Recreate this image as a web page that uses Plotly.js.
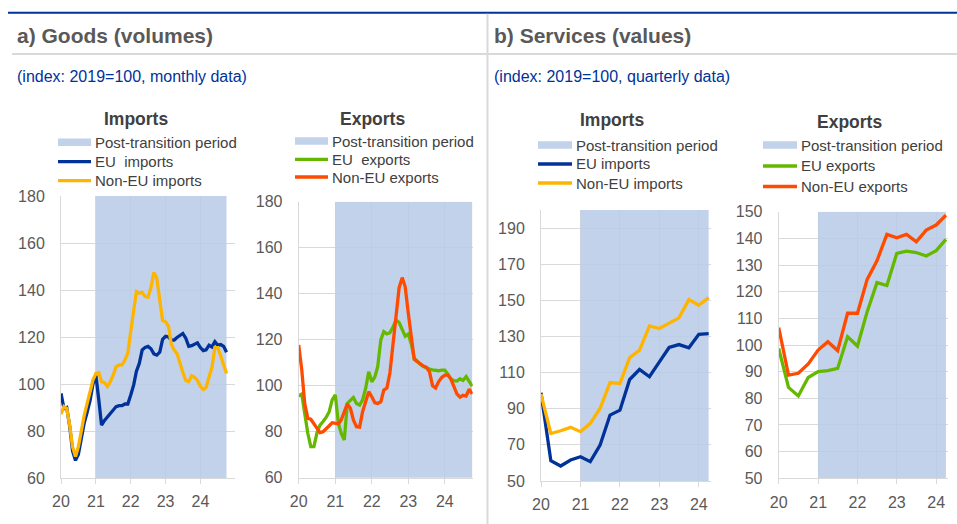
<!DOCTYPE html>
<html><head><meta charset="utf-8">
<script src="https://cdn.plot.ly/plotly-3.0.1.min.js"></script>
<style>html,body{margin:0;padding:0;background:#fff}#chart{width:957px;height:524px}</style>
</head><body><div id="chart"></div>
<script>
// ---------------- DATA ----------------
// Goods (volumes), monthly, Jan 2020 - Oct 2024, index 2019=100
const goodsImportsEU = [96,89.5,90,82,71.5,67.5,70,77.5,83.5,88,93,100,103.5,93,82.5,84.5,86,87.8,89.2,90.4,90.8,90.8,91.5,91.5,95.3,99.6,105.3,108.8,114.5,115.6,116,115,112.8,112.3,113.5,119,120.3,120,118.7,118.7,119.8,120.8,121.5,119.5,116,116.3,116.8,117.5,115.5,114.2,114.5,116.5,115.8,118,116.5,116.8,116,113.5];
const goodsImportsNonEU = [87.2,90.4,89.6,82.5,73.3,69.1,73.3,80.4,86.8,91.8,96.7,101.7,104.5,104.8,101,100.6,98.9,101,103.8,107.4,108.1,108.1,110.2,113.1,122.3,131.5,139.3,138.6,139,137.2,137,141,147.5,145,135,127,126.5,124.5,117,114.5,113,108.5,105,101.5,101,103.5,102.8,101.5,99,97.7,98.5,103,107,115.5,115.5,112,108,104.5];
const goodsExportsEU = [95.5,96.4,88,79.3,73.5,73.5,79.3,82.9,84.4,86.2,88.7,93.8,96,83.6,79.3,76.4,92.3,93.8,94.9,92.3,91.6,93.8,98.9,106.1,101.7,103.9,108.3,119.9,123.5,122.5,123,125.5,128.5,127.5,124.5,121.5,122.5,118,112,110.5,109.3,108.3,107.6,107.2,106.9,106.6,106.5,106.8,106.8,105,103,102.2,102,103,102.3,104,101.5,99.8];
const goodsExportsNonEU = [117.7,106.8,92.3,85.8,85.4,83.6,81.5,79.6,80,81.5,82.6,83.9,83.6,83.4,85.1,88.7,92.1,90.2,85.1,82.2,82,88.7,93.8,97.4,95.2,92.6,92.3,93,98.1,99,105.5,117,129,142.5,147,143,131.5,120,111.5,110.5,109.3,108.5,108,106,100,99,101.8,103.6,104.6,104.6,103,100,96.5,95,95.8,95.5,98.5,96.4];
// Services (values), quarterly, 2020Q1 - 2024Q2, index 2019=100
const servImportsEU = [98.8,61.2,58.3,61.6,63.4,60.7,69.9,86.5,89.2,106.2,111.7,107.7,115.9,123.9,125.5,123.7,131.2,131.6];
const servImportsNonEU = [98.1,76.3,77.8,79.7,77.3,81.9,90.2,104.5,104,118.3,122.4,135.8,134.4,137.1,140.3,150.4,147.3,151.5];
const servExportsEU = [98.7,84.1,80.9,87.8,90,90.4,91.2,103.1,99.6,112.5,123.4,122.3,134.4,135.2,134.7,133.4,135.4,139.6];
const servExportsNonEU = [106.5,88.7,89.4,92.9,98.1,101.2,97.9,111.9,111.9,124.6,131.6,141.5,140.2,141.5,138.7,143.1,145,148.7];

const firstMonth = '2020-01';
const firstQuarter = '2020-01';
const postTransitionStart = '2021-01-01';
const yearTicks = ['2020-01-01','2021-01-01','2022-01-01','2023-01-01','2024-01-01'];
const yearTickLabels = ['20','21','22','23','24'];

const mainTitles = ['a) Goods (volumes)', 'b) Services (values)'];
const subTitles = ['(index: 2019=100, monthly data)', '(index: 2019=100, quarterly data)'];
const panelTitles = ['Imports', 'Exports', 'Imports', 'Exports'];
const shadeLabel = 'Post-transition period';
const legendNames = [
  ['EU  imports', 'Non-EU imports'],
  ['EU  exports', 'Non-EU exports'],
  ['EU imports', 'Non-EU imports'],
  ['EU exports', 'Non-EU exports']
];

// ---------------- HELPERS ----------------
function monthSeries(start, n) {
  const [y0, m0] = start.split('-').map(Number);
  const out = [];
  for (let i = 0; i < n; i++) {
    const t = (m0 - 1) + i;
    const y = y0 + Math.floor(t / 12), m = (t % 12) + 1;
    out.push(y + '-' + String(m).padStart(2, '0') + '-01');
  }
  return out;
}
function quarterSeries(start, n) {
  const [y0, m0] = start.split('-').map(Number);
  const out = [];
  for (let i = 0; i < n; i++) {
    const t = (m0 - 1) + 3 * i;
    const y = y0 + Math.floor(t / 12), m = (t % 12) + 1;
    out.push(y + '-' + String(m).padStart(2, '0') + '-01');
  }
  return out;
}
const months = monthSeries(firstMonth, goodsImportsEU.length);
const quarters = quarterSeries(firstQuarter, servImportsEU.length);

const W = 957, H = 524;
const px = x => x / W;
const py = y => 1 - y / H;

const COL = {
  euImp: '#003299', nonImp: '#ffb400', euExp: '#65b800', nonExp: '#ff4b00',
  shade: 'rgba(183,202,230,0.85)', shadeSolid: '#c2d2ea',
  grid: '#d9d9d9', tick: '#595959', title: '#595959', sub: '#003299', dark: '#404040'
};
const FONT = 'Liberation Sans, Arial, sans-serif';

// panel geometry (pixels)
const panels = [
  {x0: 61, x1: 235.3, y0: 196, y1: 478, xr: ['2020-01-01', '2025-01-01'], yr: [60, 180], ytick: [60,80,100,120,140,160,180],
   cat: months, s: [goodsImportsEU, goodsImportsNonEU], c: [COL.euImp, COL.nonImp]},
  {x0: 298.7, x1: 472.7, y0: 201.7, y1: 477.7, xr: ['2020-01-01', '2024-10-06'], yr: [60, 180], ytick: [60,80,100,120,140,160,180],
   cat: months, s: [goodsExportsEU, goodsExportsNonEU], c: [COL.euExp, COL.nonExp]},
  {x0: 541, x1: 710.7, y0: 210, y1: 481, xr: ['2020-01-01', '2024-04-20'], yr: [50, 200], ytick: [50,70,90,110,130,150,170,190],
   cat: quarters, s: [servImportsEU, servImportsNonEU], c: [COL.euImp, COL.nonImp]},
  {x0: 778.7, x1: 948, y0: 211.7, y1: 478.3, xr: ['2020-01-01', '2024-04-20'], yr: [50, 150], ytick: [50,60,70,80,90,100,110,120,130,140,150],
   cat: quarters, s: [servExportsEU, servExportsNonEU], c: [COL.euExp, COL.nonExp]}
];

const traces = [];
const layout = {
  width: W, height: H, margin: {l: 0, r: 0, t: 0, b: 0},
  paper_bgcolor: '#fff', plot_bgcolor: '#fff', showlegend: false,
  font: {family: FONT, color: COL.tick},
  shapes: [], annotations: []
};

panels.forEach((p, i) => {
  const k = i === 0 ? '' : String(i + 1);
  const xa = 'x' + k, ya = 'y' + k;
  // shading (post-transition period)
  const shadeX = p.cat.filter(d => d >= postTransitionStart);
  traces.push({
    x: shadeX, y: shadeX.map(() => p.yr[1]), xaxis: xa, yaxis: ya,
    type: 'scatter', mode: 'none', fill: 'tozeroy', fillcolor: COL.shade,
    hoverinfo: 'skip', showlegend: false
  });
  p.s.forEach((vals, j) => {
    traces.push({
      x: p.cat, y: vals, xaxis: xa, yaxis: ya, type: 'scatter', mode: 'lines',
      line: {color: p.c[j], width: 3.3, shape: 'linear'}, name: legendNames[i][j], showlegend: false
    });
  });
  layout['xaxis' + k] = {
    domain: [px(p.x0), px(p.x1)], anchor: ya, type: 'date', range: p.xr,
    tickmode: 'array', tickvals: yearTicks, ticktext: yearTickLabels,
    showgrid: true, gridcolor: COL.grid, gridwidth: 1,
    showline: true, linecolor: COL.grid, linewidth: 1,
    ticks: 'outside', ticklen: 5, tickcolor: COL.grid,
    tickfont: {size: 16, color: COL.tick, family: FONT}, ticklabelstandoff: 4,
    zeroline: false, fixedrange: true
  };
  layout['yaxis' + k] = {
    domain: [py(p.y1), py(p.y0)], anchor: xa, range: p.yr,
    tickmode: 'array', tickvals: p.ytick,
    showgrid: true, gridcolor: COL.grid, gridwidth: 1,
    showline: true, linecolor: COL.grid, linewidth: 1, ticks: '',
    tickfont: {size: 16, color: COL.tick, family: FONT}, ticklabelstandoff: 12,
    zeroline: false, fixedrange: true
  };
});

// frame lines
layout.shapes.push(
  {type: 'line', xref: 'paper', yref: 'paper', x0: px(8), x1: 1, y0: py(12.7), y1: py(12.7), line: {color: '#003299', width: 2}},
  {type: 'line', xref: 'paper', yref: 'paper', x0: px(12), x1: 1, y0: py(54), y1: py(54), line: {color: COL.grid, width: 2}},
  {type: 'line', xref: 'paper', yref: 'paper', x0: px(487.5), x1: px(487.5), y0: py(13.7), y1: 0, line: {color: COL.grid, width: 2}}
);

// titles
const titlePos = [{x: 15, y: 35}, {x: 491.5, y: 35}];
titlePos.forEach((t, i) => {
  layout.annotations.push({xref: 'paper', yref: 'paper', x: px(t.x), y: py(t.y), xanchor: 'left', yanchor: 'middle',
    text: '<b>' + mainTitles[i] + '</b>', showarrow: false, font: {size: 21, color: COL.title, family: FONT}});
  layout.annotations.push({xref: 'paper', yref: 'paper', x: px(t.x), y: py(76), xanchor: 'left', yanchor: 'middle',
    text: subTitles[i], showarrow: false, font: {size: 16, color: COL.sub, family: FONT}});
});

// panel titles and legends
const ptPos = [{x: 136, y: 118.7}, {x: 372.5, y: 119}, {x: 612, y: 120}, {x: 849, y: 121.7}];
const legPos = [
  {sx0: 58, sx1: 91, tx: 93, rows: [142.3, 161.7, 180.7]},
  {sx0: 295, sx1: 328, tx: 330, rows: [141, 159.3, 177]},
  {sx0: 538, sx1: 572, tx: 574, rows: [145, 164, 183]},
  {sx0: 763, sx1: 797, tx: 799, rows: [145, 166, 186.5]}
];
panels.forEach((p, i) => {
  layout.annotations.push({xref: 'paper', yref: 'paper', x: px(ptPos[i].x), y: py(ptPos[i].y), xanchor: 'center', yanchor: 'middle',
    text: '<b>' + panelTitles[i] + '</b>', showarrow: false, font: {size: 17.5, color: COL.dark, family: FONT}});
  const L = legPos[i];
  layout.shapes.push({type: 'rect', xref: 'paper', yref: 'paper', x0: px(L.sx0), x1: px(L.sx1),
    y0: py(L.rows[0] + 3.7), y1: py(L.rows[0] - 3.7), fillcolor: COL.shadeSolid, line: {width: 0}});
  const labels = [shadeLabel].concat(legendNames[i]);
  labels.forEach((lab, j) => {
    if (j > 0) {
      layout.shapes.push({type: 'line', xref: 'paper', yref: 'paper', x0: px(L.sx0), x1: px(L.sx1),
        y0: py(L.rows[j]), y1: py(L.rows[j]), line: {color: p.c[j - 1], width: 3.3}});
    }
    layout.annotations.push({xref: 'paper', yref: 'paper', x: px(L.tx), y: py(L.rows[j]), xanchor: 'left', yanchor: 'middle',
      text: lab, showarrow: false, font: {size: 15, color: COL.dark, family: FONT}});
  });
});

Plotly.newPlot('chart', traces, layout, {staticPlot: true, displayModeBar: false});
</script></body></html>
